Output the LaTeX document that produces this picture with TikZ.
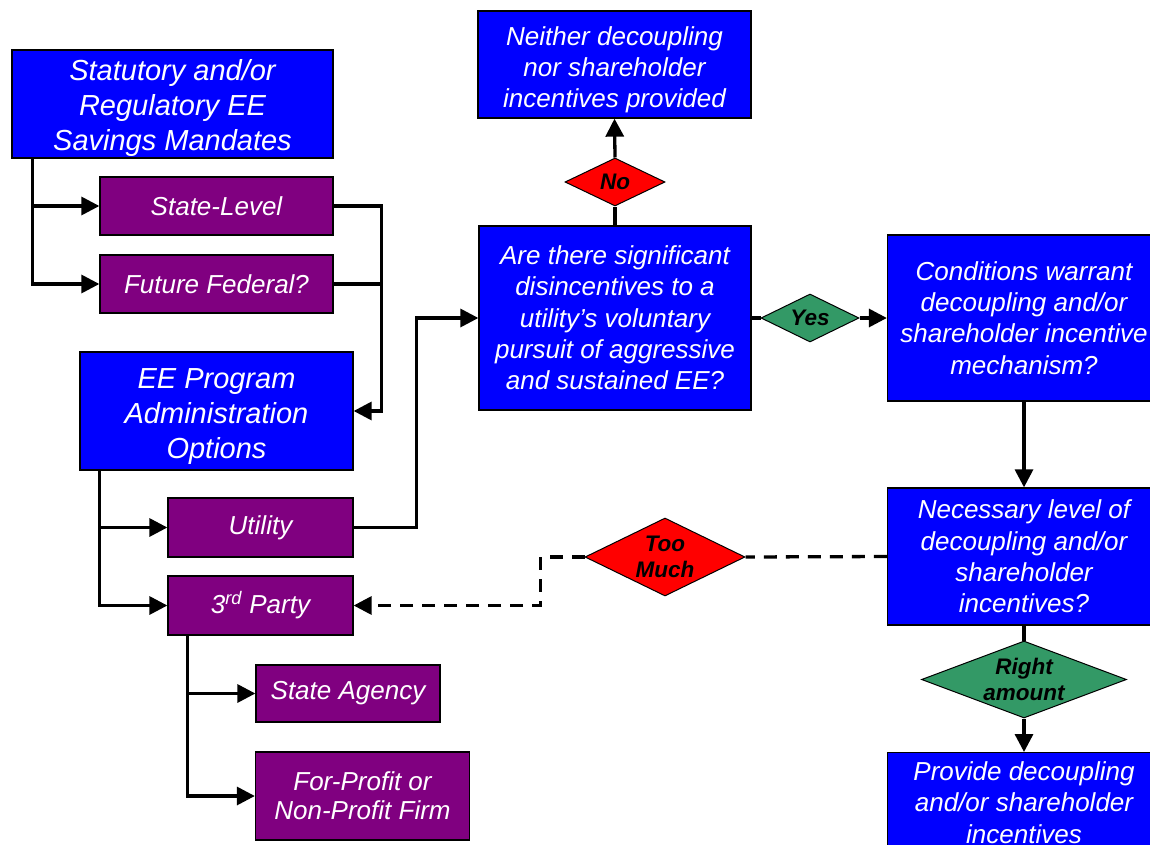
\documentclass[tikz,border=0pt]{standalone}
\usepackage{fontspec}
\setmainfont{Liberation Sans}
\usetikzlibrary{shapes.geometric,arrows.meta}
\definecolor{bxblue}{RGB}{0,0,255}
\definecolor{bxpurple}{RGB}{128,0,128}
\definecolor{dmred}{RGB}{255,0,0}
\definecolor{dmgreen}{RGB}{51,153,102}
\tikzset{
  box/.style={draw=black, line width=1.3pt, text=white, align=center, inner sep=0pt},
  bluebox/.style={box, fill=bxblue, font=\fontsize{26}{31.3}\selectfont\itshape},
  bigblue/.style={box, fill=bxblue, font=\fontsize{29}{35}\selectfont\itshape},
  purplebox/.style={box, fill=bxpurple, font=\fontsize{26}{29}\selectfont\itshape},
  dmd/.style={diamond, draw=black, line width=1pt, inner sep=0pt},
  dmlabel/.style={font=\fontsize{22.5}{26}\selectfont\bfseries\itshape, text=black, align=center},
  conn/.style={line width=3.3pt, draw=black},
  arr/.style={conn, -{Triangle[length=18pt,width=18pt]}},
  dashconn/.style={conn, dash pattern=on 13pt off 9pt},
}
\begin{document}
\begin{tikzpicture}[x=1pt,y=-1pt]
\clip (0,0) rectangle (1150,845);
\fill[white] (0,0) rectangle (1150,845);
% left column
\node[bigblue, minimum width=321, minimum height=108] (mand) at (172.5,104) {\rule{0pt}{29pt}Statutory and/or\\Regulatory EE\\Savings Mandates};
\node[purplebox, minimum width=233, minimum height=58] (state) at (216.5,206) {State-Level};
\node[purplebox, minimum width=233, minimum height=58] (fed) at (216.5,284) {Future Federal?};
\node[bigblue, minimum width=273, minimum height=118] (ee) at (216.5,411) {\rule{0pt}{31pt}EE Program\\Administration\\Options};
\node[purplebox, minimum width=185, minimum height=59] (util) at (260.5,527.5) {Utility};
\node[purplebox, minimum width=185, minimum height=59] (third) at (260.5,605.5) {3\textsuperscript{rd} Party};
\node[purplebox, minimum width=184, minimum height=57] (agency) at (348,693.5) {State Agency};
\node[purplebox, minimum width=214, minimum height=88] (firm) at (362.5,796) {For-Profit or\\Non-Profit Firm};
% middle column
\node[bluebox, minimum width=273, minimum height=107] (neither) at (614.5,64.5) {\rule{0pt}{29.5pt}Neither decoupling\\nor shareholder\\incentives provided};
\node[bluebox, minimum width=272, minimum height=184] (q) at (615,318) {Are there significant\\disincentives to a\\utility’s voluntary\\pursuit of aggressive\\and sustained EE?};
\node[dmd, fill=dmred, minimum width=100, minimum height=48, label={[dmlabel]center:No}] (no) at (615,182) {};
\node[dmd, fill=dmgreen, minimum width=98, minimum height=48, label={[dmlabel]center:Yes}] (yes) at (810,318) {};
% right column
\node[bluebox, minimum width=273, minimum height=166] (cond) at (1024,318) {Conditions warrant\\decoupling and/or\\shareholder incentive\\mechanism?};
\node[bluebox, minimum width=273, minimum height=137] (nec) at (1024,556.5) {Necessary level of\\decoupling and/or\\shareholder\\incentives?};
\node[dmd, fill=dmred, minimum width=160, minimum height=78, label={[dmlabel]center:Too\\Much}] (too) at (665,557) {};
\node[dmd, fill=dmgreen, minimum width=205, minimum height=77, label={[dmlabel]center:Right\\amount}] (right) at (1024,679.5) {};
\node[bluebox, minimum width=273, minimum height=100, anchor=north] (prov) at (1024,752) {Provide decoupling\\and/or shareholder\\incentives};
% connectors left
\draw[arr] ([xshift=21pt]mand.south west) |- (state.west);
\draw[arr] ([xshift=21pt]mand.south west) |- (fed.west);
\draw[arr] (state.east) -- ++(48,0) |- (ee.east);
\draw[conn] (fed.east) -- ++(48,0);
\draw[arr] ([xshift=20pt]ee.south west) |- (util.west);
\draw[arr] ([xshift=20pt]ee.south west) |- (third.west);
\draw[arr] ([xshift=20pt]third.south west) |- (agency.west);
\draw[arr] ([xshift=20pt]third.south west) |- (firm.west);
\draw[arr] (util.east) -- ++(63,0) |- (q.west);
% connectors middle/right
\draw[conn] (q.north) -- (no.south);
\draw[arr] (no.north) -- (neither.south);
\draw[conn] (q.east) -- (yes.west);
\draw[arr] (yes.east) -- (cond.west);
\draw[arr] (cond.south) -- (nec.north);
\draw[conn] (nec.south) -- (right.north);
\draw[arr] (right.south) -- (prov.north);
\draw[dashconn] (nec.west) -- (too.east);
\draw[dashconn, -{Triangle[length=18pt,width=18pt]}] (too.west) -- ++(-44,0) |- (third.east);
\end{tikzpicture}
\end{document}
